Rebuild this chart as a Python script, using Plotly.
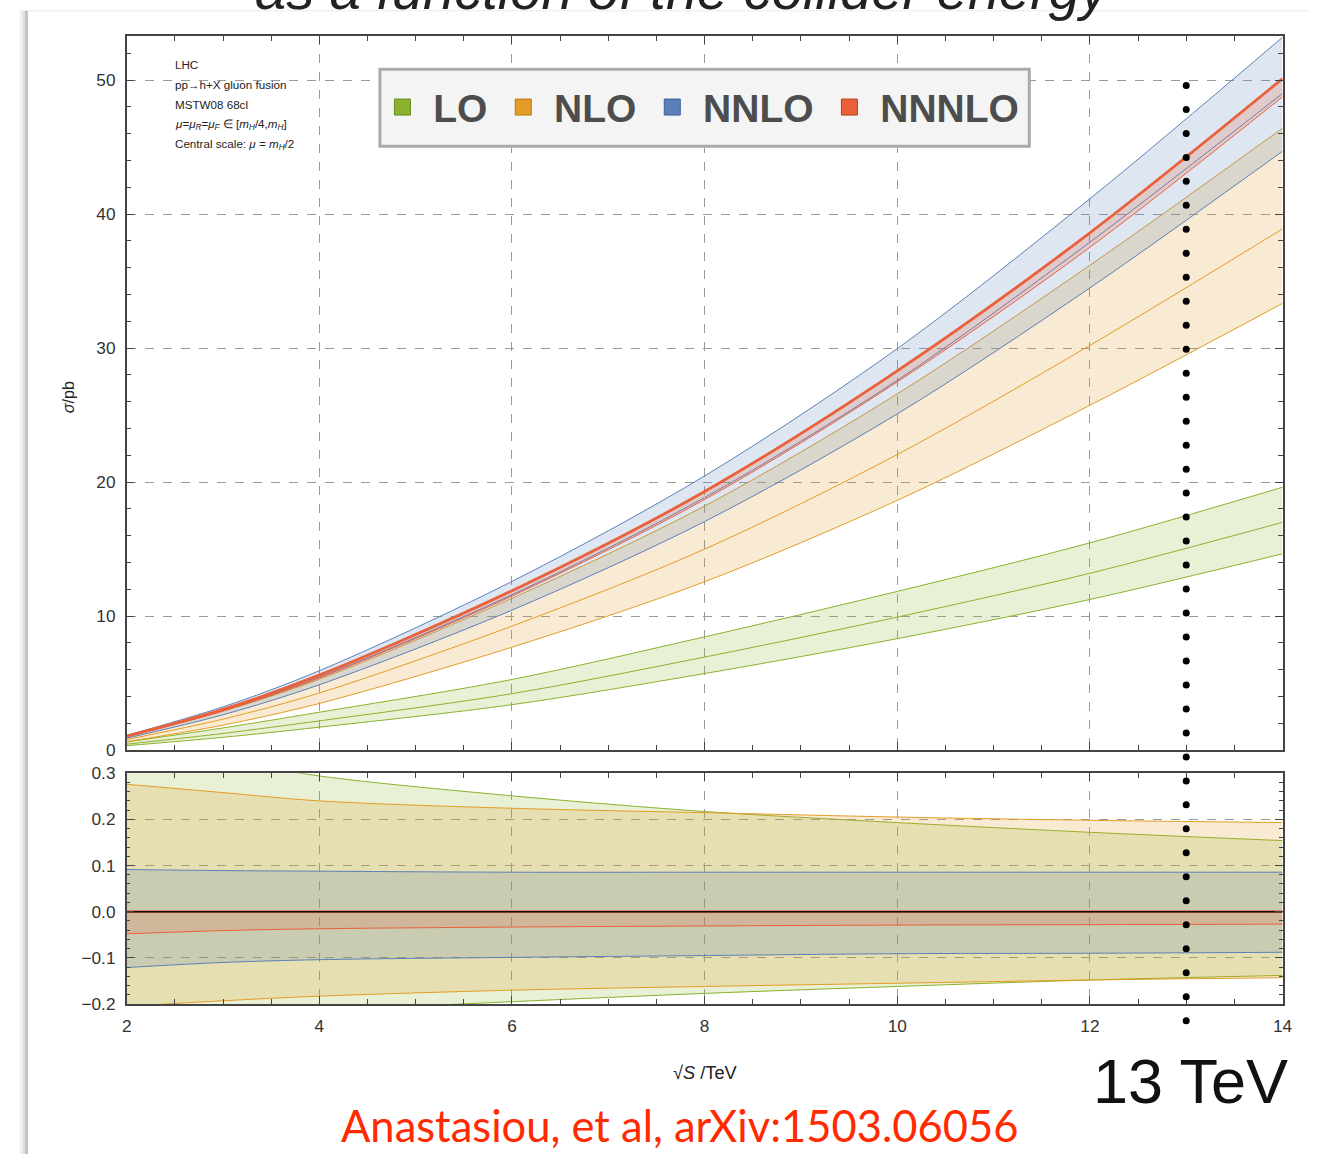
import numpy as np
import plotly.graph_objects as go

# ---- data -----------------------------------------------------------------
# collider energy sqrt(S) in TeV
energy = [2, 3, 4, 6, 8, 10, 12, 14]

# central cross sections (pb), scale mu = mH/2
lo_central = [0.45, 1.25, 2.19, 4.22, 6.95, 9.93, 13.2, 17.0]
nlo_central = [0.80, 2.32, 4.27, 9.26, 15.0, 22.06, 30.2, 38.9]
nnlo_central = [1.02, 2.97, 5.45, 11.6, 18.85, 27.6, 37.9, 49.0]
n3lo_central = [1.05, 3.05, 5.6, 11.9, 19.3, 28.3, 38.6, 50.1]

# relative scale variation, mu in [mH/4, mH] (fraction of central value)
lo_up = [0.37, 0.33, 0.294, 0.251, 0.217, 0.193, 0.172, 0.154]
lo_down = [-0.25, -0.23, -0.215, -0.195, -0.177, -0.162, -0.148, -0.138]
nlo_up = [0.276, 0.258, 0.240, 0.224, 0.2145, 0.205, 0.198, 0.193]
nlo_down = [-0.205, -0.193, -0.183, -0.170, -0.162, -0.155, -0.148, -0.143]
nnlo_up = [0.0913, 0.089, 0.0877, 0.0855, 0.0855, 0.0855, 0.0855, 0.0855]
nnlo_down = [-0.121, -0.110, -0.104, -0.099, -0.095, -0.091, -0.090, -0.088]
n3lo_up = [0.0, 0.0, 0.0, 0.0, 0.0, 0.0, 0.0, 0.0]
n3lo_down = [-0.048, -0.041, -0.037, -0.0333, -0.031, -0.029, -0.028, -0.027]

marked_energy = 13  # TeV

orders = [
    ("LO", lo_central, lo_up, lo_down, "#8bb22e", "#6a8a1e", "rgba(139,178,46,0.2)"),
    ("NLO", nlo_central, nlo_up, nlo_down, "#e39c25", "#b87812", "rgba(227,156,37,0.2)"),
    ("NNLO", nnlo_central, nnlo_up, nnlo_down, "#5b80b8", "#3d5f92", "rgba(91,128,184,0.2)"),
    ("NNNLO", n3lo_central, n3lo_up, n3lo_down, "#e9603a", "#b8401f", "rgba(233,96,58,0.2)"),
]

# ---- page geometry --------------------------------------------------------
W, H = 1319, 1164
# where a figure pixel lands on the displayed page (scale, offset)
SX, OX = 0.9896, 4.2
SY, OY = 0.9836, 9.2
FS = 1.013  # font scale that compensates for the page scale


def fx(px):
    """displayed page column -> paper fraction"""
    return ((px - OX) / SX) / W


def fy(py):
    """displayed page row -> paper fraction"""
    return 1 - ((py - OY) / SY) / H


x_dom = [fx(126), fx(1283)]
top_dom = [fy(750), fy(35)]
bot_dom = [fy(1004), fy(773)]

fig = go.Figure()

spline = dict(shape="spline", smoothing=0.9)

for name, cen, up, dn, col, dark, fill in orders:
    cen = np.array(cen)
    up = np.array(up)
    dn = np.array(dn)
    central_width = 2.8 if name == "NNNLO" else 1
    # upper panel: absolute band
    fig.add_trace(go.Scatter(x=energy, y=cen * (1 + dn), mode="lines",
                             line=dict(color=col, width=1, **spline),
                             showlegend=False, hoverinfo="skip", xaxis="x", yaxis="y"))
    fig.add_trace(go.Scatter(x=energy, y=cen * (1 + up), mode="lines", fill="tonexty",
                             fillcolor=fill, line=dict(color=col, width=1, **spline),
                             showlegend=False, hoverinfo="skip", xaxis="x", yaxis="y"))
    fig.add_trace(go.Scatter(x=energy, y=cen, mode="lines",
                             line=dict(color=col, width=central_width, **spline),
                             showlegend=False, hoverinfo="skip", xaxis="x", yaxis="y"))
    # lower panel: relative band
    fig.add_trace(go.Scatter(x=energy, y=dn, mode="lines",
                             line=dict(color=col, width=1, **spline),
                             showlegend=False, hoverinfo="skip", xaxis="x2", yaxis="y2"))
    fig.add_trace(go.Scatter(x=energy, y=up, mode="lines", fill="tonexty",
                             fillcolor=fill, line=dict(color=col, width=central_width, **spline),
                             showlegend=False, hoverinfo="skip", xaxis="x2", yaxis="y2"))

# zero line of the ratio panel
fig.add_trace(go.Scatter(x=[energy[0], energy[-1]], y=[0, 0], mode="lines",
                         line=dict(color="#111111", width=1.6),
                         showlegend=False, hoverinfo="skip", xaxis="x2", yaxis="y2"))

# legend entries
for name, cen, up, dn, col, dark, fill in orders:
    fig.add_trace(go.Scatter(x=[None], y=[None], mode="markers",
                             name="\u00a0" + name + "\u00a0",
                             marker=dict(symbol="square", size=16, color=col,
                                         line=dict(color=dark, width=1)),
                             xaxis="x", yaxis="y"))

# dotted marker at 13 TeV running across both panels
dots_y = np.linspace(fy(84.7), fy(1020.7), 40)
fig.add_trace(go.Scatter(x=[marked_energy] * len(dots_y), y=dots_y, mode="markers",
                         marker=dict(color="black", size=7), cliponaxis=False,
                         showlegend=False, hoverinfo="skip", xaxis="x3", yaxis="y3"))

# ---- axes -----------------------------------------------------------------
tickfont = dict(family="Liberation Sans, Arial, sans-serif", size=17 * FS, color="#333333")
frame = dict(showline=True, linecolor="#444444", linewidth=1.5, mirror="allticks",
             ticks="inside", ticklen=8, tickcolor="#444444", tickwidth=1,
             showgrid=True, gridcolor="#9a9a9a", gridwidth=1.1, griddash="dash",
             zeroline=False, tickfont=tickfont)

fig.update_layout(
    xaxis=dict(domain=x_dom, anchor="y", range=[2, 14], dtick=2, tick0=2,
               showticklabels=False,
               minor=dict(dtick=0.5, ticks="inside", ticklen=5, tickcolor="#444444", showgrid=False),
               **frame),
    yaxis=dict(domain=top_dom, anchor="x", range=[0, 53.3], dtick=10, tick0=0,
               ticklabelstandoff=6,
               minor=dict(dtick=2, ticks="inside", ticklen=5, tickcolor="#444444", showgrid=False),
               **frame),
    xaxis2=dict(domain=x_dom, anchor="y2", range=[2, 14], dtick=2, tick0=2, matches="x",
                ticklabelstandoff=6,
                minor=dict(dtick=0.5, ticks="inside", ticklen=5, tickcolor="#444444", showgrid=False),
                **frame),
    yaxis2=dict(domain=bot_dom, anchor="x2", range=[-0.2, 0.3], dtick=0.1, tick0=0,
                tickformat=".1f", ticklabelstandoff=6,
                minor=dict(dtick=0.02, ticks="inside", ticklen=4, tickcolor="#444444", showgrid=False),
                **frame),
    xaxis3=dict(domain=x_dom, anchor="y3", range=[2, 14], visible=False),
    yaxis3=dict(domain=[0, 1], anchor="x3", range=[0, 1], visible=False),
)

# ---- page decoration (kept inside the paper) --------------------------------
shapes = [
    dict(type="rect", xref="paper", yref="paper", x0=fx(19), x1=fx(27), y0=0, y1=fy(10),
         fillcolor="#f0f0f0", line_width=0, layer="below"),
    dict(type="rect", xref="paper", yref="paper", x0=fx(22), x1=fx(27), y0=0, y1=fy(10),
         fillcolor="#dddddd", line_width=0, layer="below"),
    dict(type="rect", xref="paper", yref="paper", x0=fx(24.5), x1=fx(27), y0=0, y1=fy(10),
         fillcolor="#bdbdbd", line_width=0, layer="below"),
    dict(type="line", xref="paper", yref="paper", x0=fx(27), x1=1, y0=fy(10), y1=fy(10),
         line=dict(color="#ececec", width=1), layer="below"),
    # legend frame
    dict(type="rect", xref="paper", yref="paper", x0=fx(379.5), x1=fx(1029.5),
         y0=fy(145.5), y1=fy(68.5), fillcolor="#f4f4f4",
         line=dict(color="#aaaaaa", width=3), layer="above"),
]

info_font = dict(family="Liberation Sans, Arial, sans-serif", size=11.5 * FS, color="#222222")
info_lines = [
    "LHC",
    "pp→h+X gluon fusion",
    "MSTW08 68cl",
    "<i>μ</i>=<i>μ</i><sub><i>R</i></sub>=<i>μ</i><sub><i>F</i></sub> ∈ [<i>m</i><sub><i>H</i></sub>/4,<i>m</i><sub><i>H</i></sub>]",
    "Central scale: <i>μ</i> = <i>m</i><sub><i>H</i></sub>/2",
]
annotations = []
for i, line in enumerate(info_lines):
    annotations.append(dict(text=line, xref="paper", yref="paper", x=fx(172), y=fy(64 + 20 * i),
                            xanchor="left", yanchor="middle", showarrow=False, font=info_font))

annotations += [
    dict(text="<i>σ</i>/pb", xref="paper", yref="paper", x=fx(68), y=fy(397), textangle=-90,
         showarrow=False, xanchor="center", yanchor="middle",
         font=dict(family="Liberation Sans, Arial, sans-serif", size=16 * FS, color="#222222")),
    dict(text="√<i>S</i> /TeV", xref="paper", yref="paper", x=fx(705), y=fy(1073),
         showarrow=False, xanchor="center", yanchor="middle",
         font=dict(family="Liberation Sans, Arial, sans-serif", size=18 * FS, color="#222222")),
    dict(text="13 TeV", xref="paper", yref="paper", x=fx(1191), y=fy(1081),
         showarrow=False, xanchor="center", yanchor="middle",
         font=dict(family="Liberation Sans, Arial, sans-serif", size=63, color="#111111")),
    dict(text="Anastasiou, et al, arXiv:1503.06056", xref="paper", yref="paper",
         x=fx(679), y=fy(1125), showarrow=False, xanchor="center", yanchor="middle",
         font=dict(family="Lato, sans-serif", size=43.5, color="#ff2a00")),
    dict(text="<i>as a function of the collider energy</i>", xref="paper", yref="paper",
         x=fx(683), y=fy(-11.5), showarrow=False, xanchor="center", yanchor="middle",
         font=dict(family="Liberation Sans Narrow, Liberation Sans, Arial, sans-serif", size=56,
                   color="#222222")),
]

fig.update_layout(
    width=W, height=H,
    margin=dict(l=0, r=0, t=0, b=0),
    paper_bgcolor="white",
    plot_bgcolor="rgba(0,0,0,0)",
    shapes=shapes,
    annotations=annotations,
    legend=dict(orientation="h", x=fx(382), y=fy(106.5), xanchor="left", yanchor="middle",
                bgcolor="rgba(0,0,0,0)", borderwidth=0, traceorder="normal",
                font=dict(family="Liberation Sans, Arial, sans-serif", size=39,
                          color="#4d4d4d", weight="bold"),
                itemclick=False, itemdoubleclick=False),
    showlegend=True,
)

fig.write_html("out.html")
